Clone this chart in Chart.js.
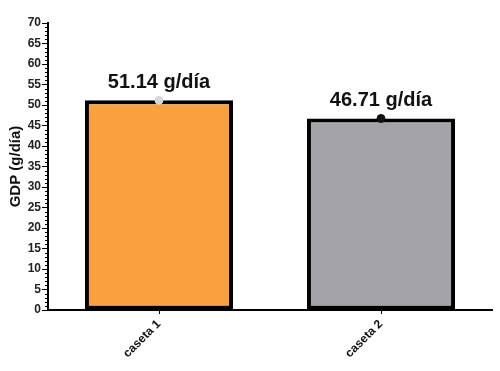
<!DOCTYPE html>
<html>
<head>
<meta charset="utf-8">
<script src="https://cdn.jsdelivr.net/npm/chart.js@4/dist/chart.umd.min.js"></script>
<style>
  body { margin: 0; background: #fff; }
</style>
</head>
<body>
<canvas id="gdpChart" width="500" height="371"></canvas>
<script>
const categories = ['caseta 1', 'caseta 2'];
const gdpValues = [51.14, 46.71];
const barLabels = ['51.14 g/día', '46.71 g/día'];
const barColors = ['#F9A03F', '#A4A3A8'];
const markerColors = ['#D8D8D8', '#111111'];
const yTicksMajor = [0, 5, 10, 15, 20, 25, 30, 35, 40, 45, 50, 55, 60, 65, 70];

// minor ticks every 1 unit along y axis
const minorTicks = {
  id: 'minorTicks',
  afterDraw(chart) {
    const y = chart.scales.y;
    const c = chart.ctx;
    c.save();
    c.strokeStyle = '#000';
    c.lineWidth = 1;
    for (let v = 0; v <= 70; v++) {
      if (v % 5 == 0) continue;
      const py = Math.round(y.getPixelForValue(v)) + 0.5;
      c.beginPath();
      c.moveTo(y.right - 3, py);
      c.lineTo(y.right, py);
      c.stroke();
    }
    c.restore();
  }
};

// value labels over the bars
const barText = {
  id: 'barText',
  afterDatasetsDraw(chart) {
    const meta = chart.getDatasetMeta(1);
    const c = chart.ctx;
    c.save();
    c.font = 'bold 20px "Liberation Sans", Arial, sans-serif';
    c.fillStyle = '#111';
    c.textAlign = 'center';
    c.textBaseline = 'alphabetic';
    meta.data.forEach(function (bar, i) {
      c.fillText(barLabels[i], bar.x, bar.y - 12);
    });
    c.restore();
  }
};

new Chart(document.getElementById('gdpChart'), {
  type: 'bar',
  data: {
    labels: categories,
    datasets: [{
      type: 'line',
      data: gdpValues,
      showLine: false,
      pointRadius: 4,
      pointBackgroundColor: markerColors,
      pointBorderColor: markerColors,
      order: 0
    }, {
      data: gdpValues,
      backgroundColor: barColors,
      borderColor: '#000',
      borderWidth: 4,
      borderSkipped: false,
      barPercentage: 0.667,
      categoryPercentage: 1,
      order: 1
    }]
  },
  options: {
    responsive: false,
    animation: false,
    devicePixelRatio: 1,
    layout: { padding: { top: 23, right: 8, left: 7, bottom: 0 } },
    plugins: {
      legend: { display: false },
      tooltip: { enabled: false }
    },
    scales: {
      x: {
        offset: true,
        grid: { drawOnChartArea: false, drawTicks: true, tickLength: 4, color: '#000', offset: false },
        border: { color: '#000', width: 2 },
        ticks: {
          maxRotation: 45,
          minRotation: 45,
          color: '#111',
          font: { family: '"Liberation Sans", Arial, sans-serif', size: 12, weight: 'bold' }
        },
        afterFit(scale) { scale.height = 61; }
      },
      y: {
        min: 0,
        max: 70,
        afterBuildTicks(scale) {
          scale.ticks = yTicksMajor.map(v => ({ value: v }));
        },
        grid: { drawOnChartArea: false, drawTicks: true, tickLength: 6, color: '#000' },
        border: { color: '#000', width: 2 },
        ticks: {
          autoSkip: false,
          padding: 1,
          color: '#222',
          font: { family: '"Liberation Sans", Arial, sans-serif', size: 12, weight: 'bold' }
        },
        title: {
          display: true,
          text: 'GDP (g/día)',
          color: '#111',
          padding: { top: 0, bottom: 2 },
          font: { family: '"Liberation Sans", Arial, sans-serif', size: 15, weight: 'bold' }
        },
        afterFit(scale) { scale.width = 41; }
      }
    }
  },
  plugins: [minorTicks, barText]
});
</script>
</body>
</html>
